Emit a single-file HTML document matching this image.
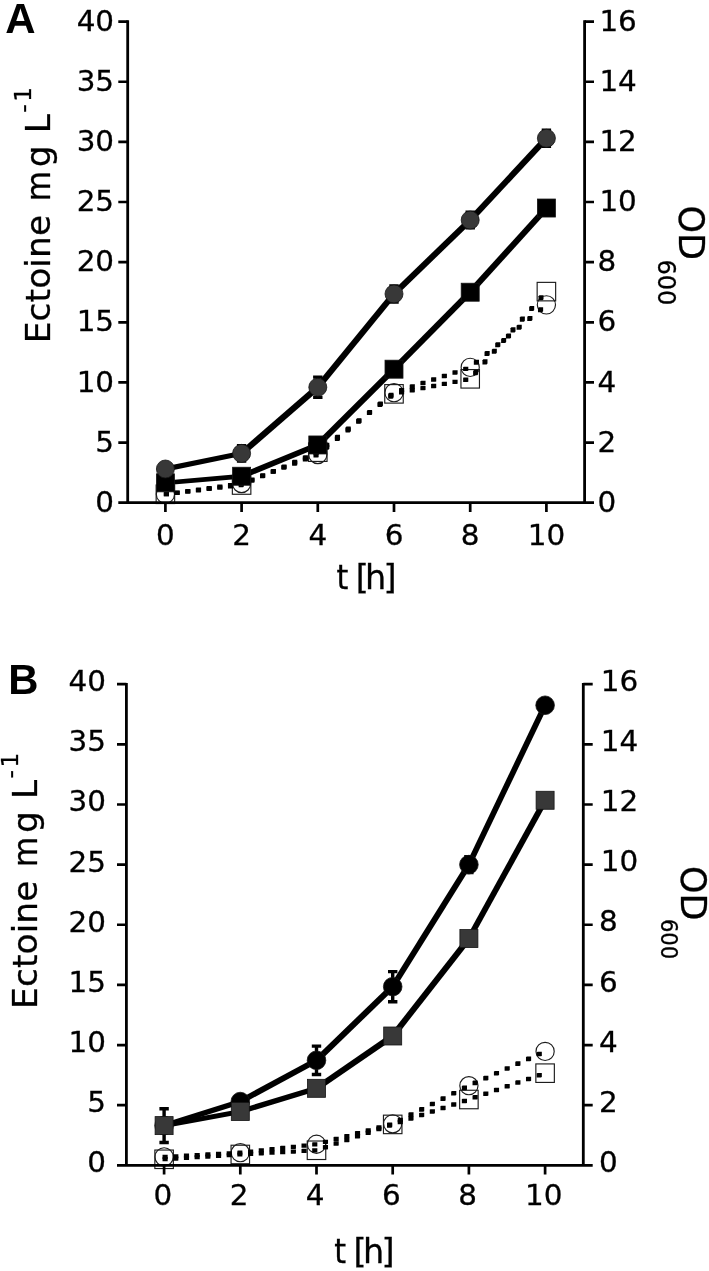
<!DOCTYPE html>
<html><head><meta charset="utf-8"><title>Ectoine and OD600 over time</title>
<style>
html,body{margin:0;padding:0;background:#fff;}
svg{display:block;}
text{font-family:"DejaVu Sans", "Liberation Sans", sans-serif;fill:#000;stroke:#000;stroke-width:0.3px;}
text.pl{font-family:"Liberation Sans",Arial,sans-serif;stroke:none;}
</style></head>
<body>
<svg width="709" height="1271" viewBox="0 0 709 1271">
<rect width="709" height="1271" fill="#fff"/>
<g id="panelA">
<g>
<rect x="156.15" y="485.03" width="18.50" height="18.50" fill="none" stroke="#1c1c1c" stroke-width="1.15"/>
<rect x="232.35" y="475.77" width="18.50" height="18.50" fill="none" stroke="#1c1c1c" stroke-width="1.15"/>
<rect x="308.55" y="442.93" width="18.50" height="18.50" fill="none" stroke="#1c1c1c" stroke-width="1.15"/>
<rect x="384.75" y="384.60" width="18.50" height="18.50" fill="none" stroke="#1c1c1c" stroke-width="1.15"/>
<rect x="460.95" y="369.57" width="18.50" height="18.50" fill="none" stroke="#1c1c1c" stroke-width="1.15"/>
<rect x="537.15" y="282.37" width="18.50" height="18.50" fill="none" stroke="#1c1c1c" stroke-width="1.15"/>
<circle cx="165.40" cy="494.28" r="9.1" fill="none" stroke="#1c1c1c" stroke-width="1.15"/>
<circle cx="241.60" cy="483.58" r="9.1" fill="none" stroke="#1c1c1c" stroke-width="1.15"/>
<circle cx="317.80" cy="454.59" r="9.1" fill="none" stroke="#1c1c1c" stroke-width="1.15"/>
<circle cx="394.00" cy="392.65" r="9.1" fill="none" stroke="#1c1c1c" stroke-width="1.15"/>
<circle cx="470.20" cy="367.39" r="9.1" fill="none" stroke="#1c1c1c" stroke-width="1.15"/>
<circle cx="546.40" cy="304.85" r="9.1" fill="none" stroke="#1c1c1c" stroke-width="1.15"/>
</g>
<g fill="#000"><polygon points="163.82,492.14 164.82,492.02 168.98,492.02 168.98,496.18 167.98,496.30 163.82,496.30"/><polygon points="174.51,490.84 175.51,490.72 179.67,490.72 179.67,494.88 178.67,495.00 174.51,495.00"/><polygon points="185.20,489.54 186.20,489.42 190.36,489.42 190.36,493.58 189.36,493.70 185.20,493.70"/><polygon points="195.89,488.24 196.89,488.12 201.05,488.12 201.05,492.28 200.05,492.40 195.89,492.40"/><polygon points="206.58,486.94 207.58,486.82 211.74,486.82 211.74,490.98 210.74,491.10 206.58,491.10"/><polygon points="217.27,485.64 218.27,485.52 222.43,485.52 222.43,489.68 221.43,489.80 217.27,489.80"/><polygon points="227.96,484.34 228.96,484.22 233.12,484.22 233.12,488.38 232.12,488.50 227.96,488.50"/><polygon points="238.65,483.05 239.52,482.94 243.68,482.94 243.68,487.10 242.81,487.21 238.65,487.21"/><polygon points="249.34,478.71 250.34,478.28 254.50,478.28 254.50,482.44 253.50,482.87 249.34,482.87"/><polygon points="260.03,474.10 261.03,473.67 265.19,473.67 265.19,477.83 264.19,478.26 260.03,478.26"/><polygon points="270.72,469.50 271.72,469.06 275.88,469.06 275.88,473.22 274.88,473.66 270.72,473.66"/><polygon points="281.41,464.89 282.41,464.46 286.57,464.46 286.57,468.62 285.57,469.05 281.41,469.05"/><polygon points="292.10,460.28 293.10,459.85 297.26,459.85 297.26,464.01 296.26,464.44 292.10,464.44"/><polygon points="302.79,455.68 303.79,455.25 307.95,455.25 307.95,459.41 306.95,459.84 302.79,459.84"/><polygon points="313.48,451.07 314.48,450.64 318.64,450.64 318.64,454.80 317.64,455.23 313.48,455.23"/><polygon points="324.17,443.64 325.17,442.87 329.33,442.87 329.33,447.03 328.33,447.80 324.17,447.80"/><polygon points="334.86,435.45 335.86,434.69 340.02,434.69 340.02,438.85 339.02,439.61 334.86,439.61"/><polygon points="345.55,427.27 346.55,426.50 350.71,426.50 350.71,430.66 349.71,431.43 345.55,431.43"/><polygon points="356.24,419.09 357.24,418.32 361.40,418.32 361.40,422.48 360.40,423.25 356.24,423.25"/><polygon points="366.93,410.90 367.93,410.14 372.09,410.14 372.09,414.30 371.09,415.06 366.93,415.06"/><polygon points="377.62,402.72 378.62,401.95 382.78,401.95 382.78,406.11 381.78,406.88 377.62,406.88"/><polygon points="388.31,394.53 389.31,393.77 393.47,393.77 393.47,397.93 392.47,398.69 388.31,398.69"/><polygon points="399.00,390.37 400.00,390.18 404.16,390.18 404.16,394.34 403.16,394.53 399.00,394.53"/><polygon points="409.69,388.27 410.69,388.07 414.85,388.07 414.85,392.23 413.85,392.43 409.69,392.43"/><polygon points="420.38,386.16 421.38,385.96 425.54,385.96 425.54,390.12 424.54,390.32 420.38,390.32"/><polygon points="431.07,384.05 432.07,383.85 436.23,383.85 436.23,388.01 435.23,388.21 431.07,388.21"/><polygon points="441.76,381.94 442.76,381.74 446.92,381.74 446.92,385.90 445.92,386.10 441.76,386.10"/><polygon points="452.45,379.83 453.45,379.63 457.61,379.63 457.61,383.79 456.61,383.99 452.45,383.99"/><polygon points="463.14,377.72 464.14,377.52 468.30,377.52 468.30,381.68 467.30,381.88 463.14,381.88"/><polygon points="473.11,371.03 473.98,370.03 478.14,370.03 478.14,374.19 477.27,375.19 473.11,375.19"/><polygon points="482.45,360.34 483.33,359.34 487.49,359.34 487.49,363.50 486.61,364.50 482.45,364.50"/><polygon points="491.79,349.65 492.67,348.65 496.83,348.65 496.83,352.81 495.95,353.81 491.79,353.81"/><polygon points="501.13,338.96 502.01,337.96 506.17,337.96 506.17,342.12 505.29,343.12 501.13,343.12"/><polygon points="510.48,328.27 511.35,327.27 515.51,327.27 515.51,331.43 514.64,332.43 510.48,332.43"/><polygon points="519.82,317.58 520.69,316.58 524.85,316.58 524.85,320.74 523.98,321.74 519.82,321.74"/><polygon points="529.16,306.89 530.03,305.89 534.19,305.89 534.19,310.05 533.32,311.05 529.16,311.05"/><polygon points="538.50,296.20 539.37,295.20 543.53,295.20 543.53,299.36 542.66,300.36 538.50,300.36"/><polygon points="163.82,492.13 164.82,491.99 168.98,491.99 168.98,496.15 167.98,496.29 163.82,496.29"/><polygon points="174.51,490.63 175.51,490.49 179.67,490.49 179.67,494.65 178.67,494.79 174.51,494.79"/><polygon points="185.20,489.13 186.20,488.99 190.36,488.99 190.36,493.15 189.36,493.29 185.20,493.29"/><polygon points="195.89,487.63 196.89,487.48 201.05,487.48 201.05,491.64 200.05,491.79 195.89,491.79"/><polygon points="206.58,486.12 207.58,485.98 211.74,485.98 211.74,490.14 210.74,490.28 206.58,490.28"/><polygon points="217.27,484.62 218.27,484.48 222.43,484.48 222.43,488.64 221.43,488.78 217.27,488.78"/><polygon points="227.96,483.12 228.96,482.98 233.12,482.98 233.12,487.14 232.12,487.28 227.96,487.28"/><polygon points="238.65,481.62 239.52,481.50 243.68,481.50 243.68,485.66 242.81,485.78 238.65,485.78"/><polygon points="249.34,477.76 250.34,477.38 254.50,477.38 254.50,481.54 253.50,481.92 249.34,481.92"/><polygon points="260.03,473.69 261.03,473.31 265.19,473.31 265.19,477.47 264.19,477.85 260.03,477.85"/><polygon points="270.72,469.63 271.72,469.25 275.88,469.25 275.88,473.41 274.88,473.79 270.72,473.79"/><polygon points="281.41,465.56 282.41,465.18 286.57,465.18 286.57,469.34 285.57,469.72 281.41,469.72"/><polygon points="292.10,461.49 293.10,461.11 297.26,461.11 297.26,465.27 296.26,465.65 292.10,465.65"/><polygon points="302.79,457.43 303.79,457.05 307.95,457.05 307.95,461.21 306.95,461.59 302.79,461.59"/><polygon points="313.48,453.36 314.48,452.98 318.64,452.98 318.64,457.14 317.64,457.52 313.48,457.52"/><polygon points="324.17,445.64 325.17,444.83 329.33,444.83 329.33,448.99 328.33,449.80 324.17,449.80"/><polygon points="334.86,436.95 335.86,436.14 340.02,436.14 340.02,440.30 339.02,441.11 334.86,441.11"/><polygon points="345.55,428.26 346.55,427.45 350.71,427.45 350.71,431.61 349.71,432.42 345.55,432.42"/><polygon points="356.24,419.57 357.24,418.76 361.40,418.76 361.40,422.92 360.40,423.73 356.24,423.73"/><polygon points="366.93,410.88 367.93,410.07 372.09,410.07 372.09,414.23 371.09,415.04 366.93,415.04"/><polygon points="377.62,402.19 378.62,401.38 382.78,401.38 382.78,405.54 381.78,406.35 377.62,406.35"/><polygon points="388.31,393.50 389.31,392.69 393.47,392.69 393.47,396.85 392.47,397.66 388.31,397.66"/><polygon points="399.00,388.22 400.00,387.89 404.16,387.89 404.16,392.05 403.16,392.38 399.00,392.38"/><polygon points="409.69,384.68 410.69,384.35 414.85,384.35 414.85,388.51 413.85,388.84 409.69,388.84"/><polygon points="420.38,381.13 421.38,380.80 425.54,380.80 425.54,384.96 424.54,385.29 420.38,385.29"/><polygon points="431.07,377.59 432.07,377.26 436.23,377.26 436.23,381.42 435.23,381.75 431.07,381.75"/><polygon points="441.76,374.05 442.76,373.72 446.92,373.72 446.92,377.88 445.92,378.21 441.76,378.21"/><polygon points="452.45,370.50 453.45,370.17 457.61,370.17 457.61,374.33 456.61,374.66 452.45,374.66"/><polygon points="463.14,366.96 464.14,366.63 468.30,366.63 468.30,370.79 467.30,371.12 463.14,371.12"/><polygon points="473.83,360.62 474.83,359.80 478.99,359.80 478.99,363.96 477.99,364.78 473.83,364.78"/><polygon points="484.52,351.85 485.52,351.03 489.68,351.03 489.68,355.19 488.68,356.01 484.52,356.01"/><polygon points="495.21,343.08 496.21,342.26 500.37,342.26 500.37,346.42 499.37,347.24 495.21,347.24"/><polygon points="505.90,334.30 506.90,333.48 511.06,333.48 511.06,337.64 510.06,338.46 505.90,338.46"/><polygon points="516.59,325.53 517.59,324.71 521.75,324.71 521.75,328.87 520.75,329.69 516.59,329.69"/><polygon points="527.28,316.75 528.28,315.93 532.44,315.93 532.44,320.09 531.44,320.91 527.28,320.91"/><polygon points="537.97,307.98 538.97,307.16 543.13,307.16 543.13,311.32 542.13,312.14 537.97,312.14"/></g>
<path d="M241.60 445.81V460.96M236.90 445.81h9.4M236.90 460.96h9.4" stroke="#000" stroke-width="3.4" fill="none"/>
<path d="M317.80 377.13V397.34M313.10 377.13h9.4M313.10 397.34h9.4" stroke="#000" stroke-width="3.4" fill="none"/>
<path d="M394.00 285.84V301.96M389.30 285.84h9.4M389.30 301.96h9.4" stroke="#000" stroke-width="3.4" fill="none"/>
<path d="M470.20 212.24V227.87M465.50 212.24h9.4M465.50 227.87h9.4" stroke="#000" stroke-width="3.4" fill="none"/>
<path d="M546.40 130.21V146.33M541.70 130.21h9.4M541.70 146.33h9.4" stroke="#000" stroke-width="3.4" fill="none"/>
<g fill="#000"><polygon points="163.25,480.70 239.45,474.09 243.75,474.09 243.75,478.39 167.55,485.00 163.25,485.00"/><polygon points="239.45,474.09 315.65,442.82 319.95,442.82 319.95,447.12 243.75,478.39 239.45,478.39"/><polygon points="315.65,442.82 391.85,367.04 396.15,367.04 396.15,371.34 319.95,447.12 315.65,447.12"/><polygon points="391.85,367.04 468.05,290.07 472.35,290.07 472.35,294.37 396.15,371.34 391.85,371.34"/><polygon points="468.05,290.07 544.25,205.88 548.55,205.88 548.55,210.18 472.35,294.37 468.05,294.37"/><polygon points="163.25,466.87 239.45,451.24 243.75,451.24 243.75,455.54 167.55,471.17 163.25,471.17"/><polygon points="239.45,451.24 315.65,385.09 319.95,385.09 319.95,389.39 243.75,455.54 239.45,455.54"/><polygon points="315.65,385.09 391.85,291.75 396.15,291.75 396.15,296.05 319.95,389.39 315.65,389.39"/><polygon points="391.85,291.75 468.05,217.90 472.35,217.90 472.35,222.20 396.15,296.05 391.85,296.05"/><polygon points="468.05,217.90 544.25,136.12 548.55,136.12 548.55,140.42 472.35,222.20 468.05,222.20"/></g>
<rect x="156.40" y="473.85" width="18.0" height="18.0" fill="#000" stroke="#141414" stroke-width="0.8"/>
<rect x="232.60" y="467.24" width="18.0" height="18.0" fill="#000" stroke="#141414" stroke-width="0.8"/>
<rect x="308.80" y="435.97" width="18.0" height="18.0" fill="#000" stroke="#141414" stroke-width="0.8"/>
<rect x="385.00" y="360.19" width="18.0" height="18.0" fill="#000" stroke="#141414" stroke-width="0.8"/>
<rect x="461.20" y="283.22" width="18.0" height="18.0" fill="#000" stroke="#141414" stroke-width="0.8"/>
<rect x="537.40" y="199.03" width="18.0" height="18.0" fill="#000" stroke="#141414" stroke-width="0.8"/>
<circle cx="165.40" cy="469.02" r="9.0" fill="#383838" stroke="#141414" stroke-width="0.8"/>
<circle cx="241.60" cy="453.39" r="9.0" fill="#383838" stroke="#141414" stroke-width="0.8"/>
<circle cx="317.80" cy="387.24" r="9.0" fill="#383838" stroke="#141414" stroke-width="0.8"/>
<circle cx="394.00" cy="293.90" r="9.0" fill="#383838" stroke="#141414" stroke-width="0.8"/>
<circle cx="470.20" cy="220.05" r="9.0" fill="#383838" stroke="#141414" stroke-width="0.8"/>
<circle cx="546.40" cy="138.27" r="9.0" fill="#383838" stroke="#141414" stroke-width="0.8"/>
<path d="M127.70 20.35V502.70M118.30 502.70H594.00M584.60 20.35V502.70" fill="none" stroke="#000" stroke-width="2.8"/>
<path d="M118.30 21.60H127.70M584.60 21.60H594.00M118.30 81.74H127.70M584.60 81.74H594.00M118.30 141.88H127.70M584.60 141.88H594.00M118.30 202.01H127.70M584.60 202.01H594.00M118.30 262.15H127.70M584.60 262.15H594.00M118.30 322.29H127.70M584.60 322.29H594.00M118.30 382.42H127.70M584.60 382.42H594.00M118.30 442.56H127.70M584.60 442.56H594.00M165.40 502.70V511.90M241.60 502.70V511.90M317.80 502.70V511.90M394.00 502.70V511.90M470.20 502.70V511.90M546.40 502.70V511.90" fill="none" stroke="#000" stroke-width="2.7"/>
<text transform="translate(114.10 30.70) scale(1.04 1)" font-size="28.3" text-anchor="end">40</text>
<text transform="translate(599.40 30.70) scale(1.04 1)" font-size="28.3">16</text>
<text transform="translate(114.10 90.84) scale(1.04 1)" font-size="28.3" text-anchor="end">35</text>
<text transform="translate(599.40 90.84) scale(1.04 1)" font-size="28.3">14</text>
<text transform="translate(114.10 150.97) scale(1.04 1)" font-size="28.3" text-anchor="end">30</text>
<text transform="translate(599.40 150.97) scale(1.04 1)" font-size="28.3">12</text>
<text transform="translate(114.10 211.11) scale(1.04 1)" font-size="28.3" text-anchor="end">25</text>
<text transform="translate(599.40 211.11) scale(1.04 1)" font-size="28.3">10</text>
<text transform="translate(114.10 271.25) scale(1.04 1)" font-size="28.3" text-anchor="end">20</text>
<text transform="translate(597.60 271.25) scale(1.04 1)" font-size="28.3">8</text>
<text transform="translate(114.10 331.39) scale(1.04 1)" font-size="28.3" text-anchor="end">15</text>
<text transform="translate(597.60 331.39) scale(1.04 1)" font-size="28.3">6</text>
<text transform="translate(114.10 391.52) scale(1.04 1)" font-size="28.3" text-anchor="end">10</text>
<text transform="translate(597.60 391.52) scale(1.04 1)" font-size="28.3">4</text>
<text transform="translate(114.10 451.66) scale(1.04 1)" font-size="28.3" text-anchor="end">5</text>
<text transform="translate(597.60 451.66) scale(1.04 1)" font-size="28.3">2</text>
<text transform="translate(114.10 511.80) scale(1.04 1)" font-size="28.3" text-anchor="end">0</text>
<text transform="translate(597.60 511.80) scale(1.04 1)" font-size="28.3">0</text>
<text transform="translate(165.40 544.50) scale(1.04 1)" font-size="28.3" text-anchor="middle">0</text>
<text transform="translate(241.60 544.50) scale(1.04 1)" font-size="28.3" text-anchor="middle">2</text>
<text transform="translate(317.80 544.50) scale(1.04 1)" font-size="28.3" text-anchor="middle">4</text>
<text transform="translate(394.00 544.50) scale(1.04 1)" font-size="28.3" text-anchor="middle">6</text>
<text transform="translate(470.20 544.50) scale(1.04 1)" font-size="28.3" text-anchor="middle">8</text>
<text transform="translate(546.40 544.50) scale(1.04 1)" font-size="28.3" text-anchor="middle">10</text>
<text x="336.40 348.00 355.70 365.05 383.55" y="589.40" font-size="33.5"><tspan font-stretch="condensed">t</tspan> [h]</text>
<text transform="translate(50.20 400.00) rotate(-90)" font-size="34.4" x="56.73 78.58 97.61 111.21 132.37 142.04 163.96 185.23 198.80 232.70 255.00 266.80" y="0">Ectoine <tspan font-stretch="condensed">m</tspan>g L<tspan font-size="23.2" x="287.2 298.3" y="-19.2">-1</tspan></text>
<text transform="translate(678.90 200.00) rotate(90)" font-size="35" x="5.4" y="0">OD<tspan font-size="24" x="59.40" y="21.00">600</tspan></text>
<text transform="translate(5.3 33.0) scale(0.993 1)" font-size="42.3" font-weight="bold" class="pl">A</text>
</g>
<g id="panelB">
<g>
<rect x="154.85" y="1150.04" width="18.50" height="18.50" fill="none" stroke="#1c1c1c" stroke-width="1.15"/>
<rect x="231.05" y="1145.23" width="18.50" height="18.50" fill="none" stroke="#1c1c1c" stroke-width="1.15"/>
<rect x="307.25" y="1141.02" width="18.50" height="18.50" fill="none" stroke="#1c1c1c" stroke-width="1.15"/>
<rect x="383.45" y="1115.16" width="18.50" height="18.50" fill="none" stroke="#1c1c1c" stroke-width="1.15"/>
<rect x="459.65" y="1090.26" width="18.50" height="18.50" fill="none" stroke="#1c1c1c" stroke-width="1.15"/>
<rect x="535.85" y="1063.92" width="18.50" height="18.50" fill="none" stroke="#1c1c1c" stroke-width="1.15"/>
<circle cx="164.10" cy="1156.88" r="9.1" fill="none" stroke="#1c1c1c" stroke-width="1.15"/>
<circle cx="240.30" cy="1152.67" r="9.1" fill="none" stroke="#1c1c1c" stroke-width="1.15"/>
<circle cx="316.50" cy="1144.25" r="9.1" fill="none" stroke="#1c1c1c" stroke-width="1.15"/>
<circle cx="392.70" cy="1123.81" r="9.1" fill="none" stroke="#1c1c1c" stroke-width="1.15"/>
<circle cx="468.90" cy="1085.68" r="9.1" fill="none" stroke="#1c1c1c" stroke-width="1.15"/>
<circle cx="545.10" cy="1051.40" r="9.1" fill="none" stroke="#1c1c1c" stroke-width="1.15"/>
</g>
<g fill="#000"><polygon points="162.52,1157.17 163.52,1157.11 167.68,1157.11 167.68,1161.27 166.68,1161.33 162.52,1161.33"/><polygon points="173.21,1156.50 174.21,1156.44 178.37,1156.44 178.37,1160.60 177.37,1160.66 173.21,1160.66"/><polygon points="183.90,1155.82 184.90,1155.76 189.06,1155.76 189.06,1159.92 188.06,1159.98 183.90,1159.98"/><polygon points="194.59,1155.15 195.59,1155.09 199.75,1155.09 199.75,1159.25 198.75,1159.31 194.59,1159.31"/><polygon points="205.28,1154.47 206.28,1154.41 210.44,1154.41 210.44,1158.57 209.44,1158.63 205.28,1158.63"/><polygon points="215.97,1153.80 216.97,1153.74 221.13,1153.74 221.13,1157.90 220.13,1157.96 215.97,1157.96"/><polygon points="226.66,1153.13 227.66,1153.06 231.82,1153.06 231.82,1157.22 230.82,1157.29 226.66,1157.29"/><polygon points="237.35,1152.45 238.22,1152.40 242.38,1152.40 242.38,1156.56 241.51,1156.61 237.35,1156.61"/><polygon points="248.04,1151.85 249.04,1151.80 253.20,1151.80 253.20,1155.96 252.20,1156.01 248.04,1156.01"/><polygon points="258.73,1151.26 259.73,1151.21 263.89,1151.21 263.89,1155.37 262.89,1155.42 258.73,1155.42"/><polygon points="269.42,1150.67 270.42,1150.62 274.58,1150.62 274.58,1154.78 273.58,1154.83 269.42,1154.83"/><polygon points="280.11,1150.08 281.11,1150.03 285.27,1150.03 285.27,1154.19 284.27,1154.24 280.11,1154.24"/><polygon points="290.80,1149.49 291.80,1149.44 295.96,1149.44 295.96,1153.60 294.96,1153.65 290.80,1153.65"/><polygon points="301.49,1148.90 302.49,1148.84 306.65,1148.84 306.65,1153.00 305.65,1153.06 301.49,1153.06"/><polygon points="312.18,1148.31 313.18,1148.25 317.34,1148.25 317.34,1152.41 316.34,1152.47 312.18,1152.47"/><polygon points="322.87,1145.32 323.87,1144.98 328.03,1144.98 328.03,1149.14 327.03,1149.48 322.87,1149.48"/><polygon points="333.56,1141.69 334.56,1141.35 338.72,1141.35 338.72,1145.51 337.72,1145.85 333.56,1145.85"/><polygon points="344.25,1138.06 345.25,1137.72 349.41,1137.72 349.41,1141.88 348.41,1142.22 344.25,1142.22"/><polygon points="354.94,1134.43 355.94,1134.10 360.10,1134.10 360.10,1138.26 359.10,1138.59 354.94,1138.59"/><polygon points="365.63,1130.81 366.63,1130.47 370.79,1130.47 370.79,1134.63 369.79,1134.97 365.63,1134.97"/><polygon points="376.32,1127.18 377.32,1126.84 381.48,1126.84 381.48,1131.00 380.48,1131.34 376.32,1131.34"/><polygon points="387.01,1123.55 388.01,1123.21 392.17,1123.21 392.17,1127.37 391.17,1127.71 387.01,1127.71"/><polygon points="397.70,1120.01 398.70,1119.69 402.86,1119.69 402.86,1123.85 401.86,1124.17 397.70,1124.17"/><polygon points="408.39,1116.52 409.39,1116.19 413.55,1116.19 413.55,1120.35 412.55,1120.68 408.39,1120.68"/><polygon points="419.08,1113.03 420.08,1112.70 424.24,1112.70 424.24,1116.86 423.24,1117.19 419.08,1117.19"/><polygon points="429.77,1109.53 430.77,1109.21 434.93,1109.21 434.93,1113.37 433.93,1113.69 429.77,1113.69"/><polygon points="440.46,1106.04 441.46,1105.72 445.62,1105.72 445.62,1109.88 444.62,1110.20 440.46,1110.20"/><polygon points="451.15,1102.55 452.15,1102.22 456.31,1102.22 456.31,1106.38 455.31,1106.71 451.15,1106.71"/><polygon points="461.84,1099.06 462.84,1098.73 467.00,1098.73 467.00,1102.89 466.00,1103.22 461.84,1103.22"/><polygon points="472.53,1095.46 473.53,1095.11 477.69,1095.11 477.69,1099.27 476.69,1099.62 472.53,1099.62"/><polygon points="483.22,1091.76 484.22,1091.41 488.38,1091.41 488.38,1095.57 487.38,1095.92 483.22,1095.92"/><polygon points="493.91,1088.07 494.91,1087.72 499.07,1087.72 499.07,1091.88 498.07,1092.23 493.91,1092.23"/><polygon points="504.60,1084.37 505.60,1084.02 509.76,1084.02 509.76,1088.18 508.76,1088.53 504.60,1088.53"/><polygon points="515.29,1080.67 516.29,1080.33 520.45,1080.33 520.45,1084.49 519.45,1084.83 515.29,1084.83"/><polygon points="525.98,1076.98 526.98,1076.63 531.14,1076.63 531.14,1080.79 530.14,1081.14 525.98,1081.14"/><polygon points="536.67,1073.28 537.67,1072.94 541.83,1072.94 541.83,1077.10 540.83,1077.44 536.67,1077.44"/><polygon points="162.52,1154.77 163.52,1154.72 167.68,1154.72 167.68,1158.88 166.68,1158.93 162.52,1158.93"/><polygon points="173.21,1154.18 174.21,1154.13 178.37,1154.13 178.37,1158.29 177.37,1158.34 173.21,1158.34"/><polygon points="183.90,1153.59 184.90,1153.54 189.06,1153.54 189.06,1157.70 188.06,1157.75 183.90,1157.75"/><polygon points="194.59,1153.00 195.59,1152.95 199.75,1152.95 199.75,1157.11 198.75,1157.16 194.59,1157.16"/><polygon points="205.28,1152.41 206.28,1152.36 210.44,1152.36 210.44,1156.52 209.44,1156.57 205.28,1156.57"/><polygon points="215.97,1151.82 216.97,1151.77 221.13,1151.77 221.13,1155.93 220.13,1155.98 215.97,1155.98"/><polygon points="226.66,1151.23 227.66,1151.17 231.82,1151.17 231.82,1155.33 230.82,1155.39 226.66,1155.39"/><polygon points="237.35,1150.64 238.22,1150.59 242.38,1150.59 242.38,1154.75 241.51,1154.80 237.35,1154.80"/><polygon points="248.04,1149.51 249.04,1149.40 253.20,1149.40 253.20,1153.56 252.20,1153.67 248.04,1153.67"/><polygon points="258.73,1148.32 259.73,1148.21 263.89,1148.21 263.89,1152.37 262.89,1152.48 258.73,1152.48"/><polygon points="269.42,1147.14 270.42,1147.03 274.58,1147.03 274.58,1151.19 273.58,1151.30 269.42,1151.30"/><polygon points="280.11,1145.96 281.11,1145.85 285.27,1145.85 285.27,1150.01 284.27,1150.12 280.11,1150.12"/><polygon points="290.80,1144.78 291.80,1144.67 295.96,1144.67 295.96,1148.83 294.96,1148.94 290.80,1148.94"/><polygon points="301.49,1143.60 302.49,1143.49 306.65,1143.49 306.65,1147.65 305.65,1147.76 301.49,1147.76"/><polygon points="312.18,1142.42 313.18,1142.31 317.34,1142.31 317.34,1146.47 316.34,1146.58 312.18,1146.58"/><polygon points="322.87,1139.90 323.87,1139.64 328.03,1139.64 328.03,1143.80 327.03,1144.06 322.87,1144.06"/><polygon points="333.56,1137.04 334.56,1136.77 338.72,1136.77 338.72,1140.93 337.72,1141.20 333.56,1141.20"/><polygon points="344.25,1134.17 345.25,1133.90 349.41,1133.90 349.41,1138.06 348.41,1138.33 344.25,1138.33"/><polygon points="354.94,1131.30 355.94,1131.03 360.10,1131.03 360.10,1135.19 359.10,1135.46 354.94,1135.46"/><polygon points="365.63,1128.43 366.63,1128.16 370.79,1128.16 370.79,1132.32 369.79,1132.59 365.63,1132.59"/><polygon points="376.32,1125.56 377.32,1125.29 381.48,1125.29 381.48,1129.45 380.48,1129.72 376.32,1129.72"/><polygon points="387.01,1122.69 388.01,1122.43 392.17,1122.43 392.17,1126.59 391.17,1126.85 387.01,1126.85"/><polygon points="397.70,1118.18 398.70,1117.68 402.86,1117.68 402.86,1121.84 401.86,1122.34 397.70,1122.34"/><polygon points="408.39,1112.83 409.39,1112.33 413.55,1112.33 413.55,1116.49 412.55,1116.99 408.39,1116.99"/><polygon points="419.08,1107.48 420.08,1106.98 424.24,1106.98 424.24,1111.14 423.24,1111.64 419.08,1111.64"/><polygon points="429.77,1102.14 430.77,1101.64 434.93,1101.64 434.93,1105.80 433.93,1106.30 429.77,1106.30"/><polygon points="440.46,1096.79 441.46,1096.29 445.62,1096.29 445.62,1100.45 444.62,1100.95 440.46,1100.95"/><polygon points="451.15,1091.44 452.15,1090.94 456.31,1090.94 456.31,1095.10 455.31,1095.60 451.15,1095.60"/><polygon points="461.84,1086.09 462.84,1085.59 467.00,1085.59 467.00,1089.75 466.00,1090.25 461.84,1090.25"/><polygon points="472.53,1081.03 473.53,1080.58 477.69,1080.58 477.69,1084.74 476.69,1085.19 472.53,1085.19"/><polygon points="483.22,1076.22 484.22,1075.77 488.38,1075.77 488.38,1079.93 487.38,1080.38 483.22,1080.38"/><polygon points="493.91,1071.41 494.91,1070.96 499.07,1070.96 499.07,1075.12 498.07,1075.57 493.91,1075.57"/><polygon points="504.60,1066.60 505.60,1066.15 509.76,1066.15 509.76,1070.31 508.76,1070.76 504.60,1070.76"/><polygon points="515.29,1061.79 516.29,1061.34 520.45,1061.34 520.45,1065.50 519.45,1065.95 515.29,1065.95"/><polygon points="525.98,1056.98 526.98,1056.54 531.14,1056.54 531.14,1060.70 530.14,1061.14 525.98,1061.14"/><polygon points="536.67,1052.18 537.67,1051.73 541.83,1051.73 541.83,1055.89 540.83,1056.34 536.67,1056.34"/></g>
<path d="M164.10 1108.77V1142.45M159.40 1108.77h9.4M159.40 1142.45h9.4" stroke="#000" stroke-width="3.4" fill="none"/>
<path d="M316.50 1046.11V1074.49M311.80 1046.11h9.4M311.80 1074.49h9.4" stroke="#000" stroke-width="3.4" fill="none"/>
<path d="M392.70 971.66V1001.73M388.00 971.66h9.4M388.00 1001.73h9.4" stroke="#000" stroke-width="3.4" fill="none"/>
<path d="M468.90 856.67V872.55M464.20 856.67h9.4M464.20 872.55h9.4" stroke="#000" stroke-width="3.4" fill="none"/>
<g fill="#000"><polygon points="161.95,1123.46 238.15,1109.39 242.45,1109.39 242.45,1113.69 166.25,1127.76 161.95,1127.76"/><polygon points="238.15,1109.39 314.35,1086.17 318.65,1086.17 318.65,1090.47 242.45,1113.69 238.15,1113.69"/><polygon points="314.35,1086.17 390.55,1033.85 394.85,1033.85 394.85,1038.15 318.65,1090.47 314.35,1090.47"/><polygon points="390.55,1033.85 466.75,936.43 471.05,936.43 471.05,940.73 394.85,1038.15 390.55,1038.15"/><polygon points="466.75,936.43 542.95,798.12 547.25,798.12 547.25,802.42 471.05,940.73 466.75,940.73"/><polygon points="161.95,1123.46 238.15,1099.40 242.45,1099.40 242.45,1103.70 166.25,1127.76 161.95,1127.76"/><polygon points="238.15,1099.40 314.35,1058.15 318.65,1058.15 318.65,1062.45 242.45,1103.70 238.15,1103.70"/><polygon points="314.35,1058.15 390.55,984.54 394.85,984.54 394.85,988.84 318.65,1062.45 314.35,1062.45"/><polygon points="390.55,984.54 466.75,862.46 471.05,862.46 471.05,866.76 394.85,988.84 390.55,988.84"/><polygon points="466.75,862.46 542.95,703.10 547.25,703.10 547.25,707.40 471.05,866.76 466.75,866.76"/></g>
<circle cx="164.10" cy="1125.61" r="9.299999999999999" fill="#000" stroke="#141414" stroke-width="0.8"/>
<circle cx="240.30" cy="1101.55" r="9.299999999999999" fill="#000" stroke="#141414" stroke-width="0.8"/>
<circle cx="316.50" cy="1060.30" r="9.299999999999999" fill="#000" stroke="#141414" stroke-width="0.8"/>
<circle cx="392.70" cy="986.69" r="9.299999999999999" fill="#000" stroke="#141414" stroke-width="0.8"/>
<circle cx="468.90" cy="864.61" r="9.299999999999999" fill="#000" stroke="#141414" stroke-width="0.8"/>
<circle cx="545.10" cy="705.25" r="9.299999999999999" fill="#000" stroke="#141414" stroke-width="0.8"/>
<rect x="155.10" y="1116.61" width="18.0" height="18.0" fill="#383838" stroke="#141414" stroke-width="0.8"/>
<rect x="231.30" y="1102.54" width="18.0" height="18.0" fill="#383838" stroke="#141414" stroke-width="0.8"/>
<rect x="307.50" y="1079.32" width="18.0" height="18.0" fill="#383838" stroke="#141414" stroke-width="0.8"/>
<rect x="383.70" y="1027.00" width="18.0" height="18.0" fill="#383838" stroke="#141414" stroke-width="0.8"/>
<rect x="459.90" y="929.58" width="18.0" height="18.0" fill="#383838" stroke="#141414" stroke-width="0.8"/>
<rect x="536.10" y="791.27" width="18.0" height="18.0" fill="#383838" stroke="#141414" stroke-width="0.8"/>
<path d="M126.40 682.95V1165.30M117.00 1165.30H592.70M583.30 682.95V1165.30" fill="none" stroke="#000" stroke-width="2.8"/>
<path d="M117.00 684.20H126.40M583.30 684.20H592.70M117.00 744.34H126.40M583.30 744.34H592.70M117.00 804.48H126.40M583.30 804.48H592.70M117.00 864.61H126.40M583.30 864.61H592.70M117.00 924.75H126.40M583.30 924.75H592.70M117.00 984.89H126.40M583.30 984.89H592.70M117.00 1045.03H126.40M583.30 1045.03H592.70M117.00 1105.16H126.40M583.30 1105.16H592.70M164.10 1165.30V1174.50M240.30 1165.30V1174.50M316.50 1165.30V1174.50M392.70 1165.30V1174.50M468.90 1165.30V1174.50M545.10 1165.30V1174.50" fill="none" stroke="#000" stroke-width="2.7"/>
<text transform="translate(105.90 691.10) scale(1.04 1)" font-size="28.3" text-anchor="end">40</text>
<text transform="translate(600.70 690.90) scale(1.04 1)" font-size="28.3">16</text>
<text transform="translate(105.90 751.24) scale(1.04 1)" font-size="28.3" text-anchor="end">35</text>
<text transform="translate(600.70 751.04) scale(1.04 1)" font-size="28.3">14</text>
<text transform="translate(105.90 811.38) scale(1.04 1)" font-size="28.3" text-anchor="end">30</text>
<text transform="translate(600.70 811.18) scale(1.04 1)" font-size="28.3">12</text>
<text transform="translate(105.90 871.51) scale(1.04 1)" font-size="28.3" text-anchor="end">25</text>
<text transform="translate(600.70 871.31) scale(1.04 1)" font-size="28.3">10</text>
<text transform="translate(105.90 931.65) scale(1.04 1)" font-size="28.3" text-anchor="end">20</text>
<text transform="translate(598.90 931.45) scale(1.04 1)" font-size="28.3">8</text>
<text transform="translate(105.90 991.79) scale(1.04 1)" font-size="28.3" text-anchor="end">15</text>
<text transform="translate(598.90 991.59) scale(1.04 1)" font-size="28.3">6</text>
<text transform="translate(105.90 1051.92) scale(1.04 1)" font-size="28.3" text-anchor="end">10</text>
<text transform="translate(598.90 1051.72) scale(1.04 1)" font-size="28.3">4</text>
<text transform="translate(105.90 1112.06) scale(1.04 1)" font-size="28.3" text-anchor="end">5</text>
<text transform="translate(598.90 1111.86) scale(1.04 1)" font-size="28.3">2</text>
<text transform="translate(105.90 1172.20) scale(1.04 1)" font-size="28.3" text-anchor="end">0</text>
<text transform="translate(598.90 1172.00) scale(1.04 1)" font-size="28.3">0</text>
<text transform="translate(162.80 1204.60) scale(1.04 1)" font-size="28.3" text-anchor="middle">0</text>
<text transform="translate(239.00 1204.60) scale(1.04 1)" font-size="28.3" text-anchor="middle">2</text>
<text transform="translate(315.20 1204.60) scale(1.04 1)" font-size="28.3" text-anchor="middle">4</text>
<text transform="translate(391.40 1204.60) scale(1.04 1)" font-size="28.3" text-anchor="middle">6</text>
<text transform="translate(467.60 1204.60) scale(1.04 1)" font-size="28.3" text-anchor="middle">8</text>
<text transform="translate(543.80 1204.60) scale(1.04 1)" font-size="28.3" text-anchor="middle">10</text>
<text x="334.30 345.90 353.60 362.95 381.45" y="1262.50" font-size="33.5"><tspan font-stretch="condensed">t</tspan> [h]</text>
<text transform="translate(37.10 1065.70) rotate(-90)" font-size="34.4" x="56.73 78.58 97.61 111.21 132.37 142.04 163.96 185.23 198.80 232.70 255.00 266.80" y="0">Ectoine <tspan font-stretch="condensed">m</tspan>g L<tspan font-size="23.2" x="287.2 298.3" y="-19.2">-1</tspan></text>
<text transform="translate(681.20 860.60) rotate(90)" font-size="35" x="5.4" y="0">OD<tspan font-size="23.5" font-stretch="condensed" x="58.30" y="20.50">600</tspan></text>
<text transform="translate(8.2 694.3) scale(0.966 1)" font-size="43.3" font-weight="bold" class="pl">B</text>
</g>
</svg>
</body></html>
